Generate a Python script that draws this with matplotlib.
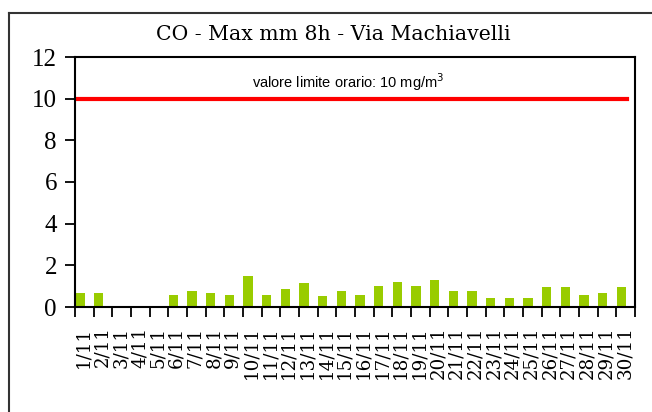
import numpy as np
import matplotlib
matplotlib.use('Agg')
import matplotlib.pyplot as plt
from matplotlib.lines import Line2D

days = [str(d) + '/11' for d in range(1, 31)]
co_max = [0.68, 0.68, 0.0, 0.0, 0.0, 0.6, 0.78, 0.68, 0.6, 1.48,
          0.6, 0.86, 1.13, 0.51, 0.78, 0.6, 1.03, 1.2, 1.03, 1.3,
          0.78, 0.78, 0.43, 0.43, 0.43, 0.95, 0.95, 0.6, 0.68, 0.95]
limit = 10
yticks = [0, 2, 4, 6, 8, 10, 12]

fig = plt.figure(figsize=(6.52, 4.12), dpi=100)
ax = fig.add_axes([75/652, 1-307/412, 560/652, 250/412])

x = np.arange(len(days))
ax.bar(x + 0.02, co_max, width=0.5, align='edge', color='#99CC00', linewidth=0)
ax.axhline(limit, xmin=0, xmax=552/560, color='#FF0000', linewidth=3)

ax.set_xlim(0, 30)
ax.set_ylim(0, 12)
ax.set_yticks(yticks)
ax.set_yticklabels([str(v) for v in yticks], fontfamily='Liberation Serif', fontsize=18)
ax.set_xticks(np.arange(0, 31))
ax.set_xticklabels([])
ax.set_xticks(x + 0.45, minor=True)
ax.set_xticklabels(days, minor=True, rotation=90, va='top', ha='center',
                   fontfamily='DejaVu Serif', fontsize=13.2)
ax.tick_params(axis='x', which='minor', length=0, pad=14)
ax.tick_params(axis='both', which='major', direction='out', length=7, width=1.3, color='black')
ax.tick_params(axis='y', pad=6)
for s in ax.spines.values():
    s.set_linewidth(1.5)
    s.set_color('black')

ax.text(0.488, 0.9, 'valore limite orario: 10 mg/m$^3$', transform=ax.transAxes,
        ha='center', va='center', fontsize=10.5, fontfamily='Liberation Sans')

fig.text(333/652, 1-34/412, 'CO - Max mm 8h - Via Machiavelli', ha='center', va='center',
         fontsize=14.7, fontfamily='DejaVu Serif')

# outer frame
fig.add_artist(Line2D([9/652, 1], [1-13/412, 1-13/412], transform=fig.transFigure, color='#333333', linewidth=1.5))
fig.add_artist(Line2D([9/652, 9/652], [0, 1-13/412], transform=fig.transFigure, color='#333333', linewidth=1.5))

fig.savefig('out.png', dpi=100)
